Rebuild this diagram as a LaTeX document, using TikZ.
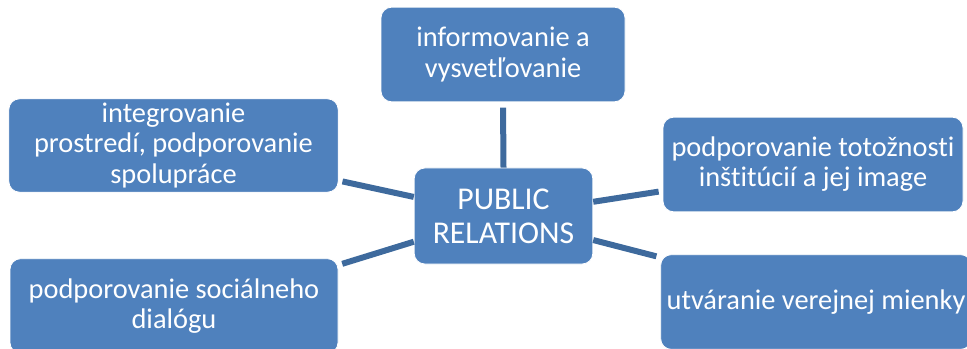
\documentclass[tikz,border=0pt]{standalone}
\usepackage{fontspec}
\setmainfont{Carlito}[Ligatures=NoCommon]
\usepackage{xcolor}

\definecolor{boxblue}{HTML}{4F81BD}
\definecolor{linkblue}{HTML}{3E6A9D}

\begin{document}
\begin{tikzpicture}[x=0.75pt,y=0.75pt,yscale=-1,xscale=1,
    topic/.style={fill=boxblue, draw=white, line width=0.6pt, rounded corners=8pt,
        text=white, align=center, inner sep=0pt,
        font=\fontsize{21.3}{22.6}\selectfont},
    hub/.style={topic, font=\fontsize{23.8}{25.5}\selectfont},
    link/.style={draw=linkblue, line width=4.5pt}]
\useasboundingbox (0,0) rectangle (967,349);
\clip (0,0) rectangle (967,349);

%Rounded Rect: hub
\node (pr) at (503.5,216) [hub, minimum width=134pt, minimum height=72pt] {PUBLIC\\RELATIONS};

%Rounded Rect: topics round the hub
\node (info) at (503,54.5) [topic, minimum width=183pt, minimum height=71pt] {informovanie a\\vysvetľovanie};
\node (integ) at (173.5,145.5) [topic, minimum width=247pt, minimum height=70pt] {integrovanie\\prostredí, podporovanie\\spolupráce};
\node (dialog) at (174,306) [topic, minimum width=246pt, minimum height=71pt] {podporovanie sociálneho\\dialógu};
\node (ident) at (813,164.5) [topic, minimum width=225pt, minimum height=71pt] {podporovanie totožnosti\\inštitúcií a jej image};
\node (opinion) at (816,302) [topic, minimum width=233pt, minimum height=71pt] {utváranie verejnej mienky};

%Links
\draw [link, shorten <=4pt] (info.south) -- (pr.north);
\draw [link, shorten <=3pt] (integ.-12.2) -- (pr.168.3);
\draw [link, shorten <=3pt] (dialog.14.9) -- (pr.-164.1);
\draw [link, shorten >=3pt] (pr.9.3) -- (ident.190);
\draw [link, shorten >=3pt] (pr.-15) -- (opinion.164.4);

\end{tikzpicture}
\end{document}
